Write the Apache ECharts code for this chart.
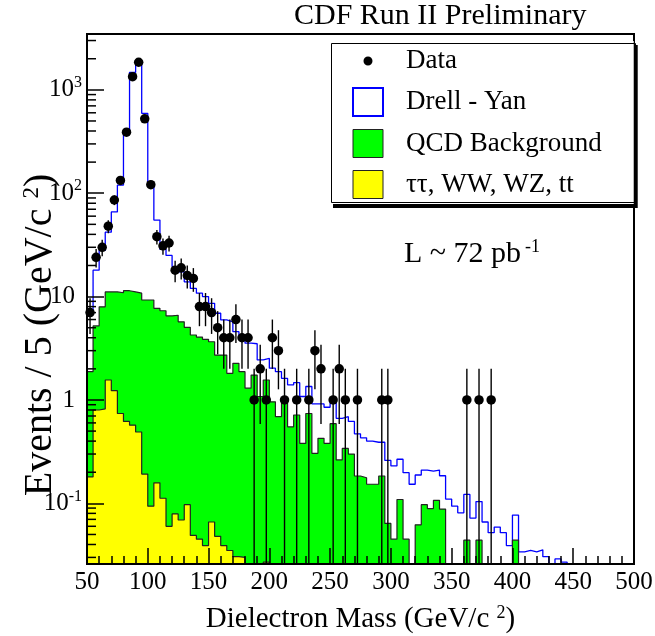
<!DOCTYPE html>
<html><head><meta charset="utf-8">
<script src="https://cdn.jsdelivr.net/npm/echarts/dist/echarts.min.js"></script>
<style>html,body{margin:0;padding:0;background:#fff}#c{width:655px;height:636px}</style>
</head><body><div id="c"></div>
<script>
// ---- bins: 5 GeV wide, low edges from 50 GeV ----
const BIN_START = 50, BIN_WIDTH = 5;

// observed events per bin
const dataCounts = [
  7, 24, 30, 48, 86, 133, 390, 1340, 1850, 524,
  121, 38, 31, 33, 18, 19, 16, 15, 8, 8,
  7, 5, 4, 4, 6, 4, 4, 1, 2, 1,
  4, 3, 1, 0, 1, 0, 1, 3, 2, 0,
  1, 2, 1, 0, 1, 0, 0, 0, 1, 1,
  0, 0, 0, 0, 0, 0, 0, 0, 0, 0,
  0, 0, 1, 0, 1, 0, 1, 0, 0, 0,
  0, 0, 0, 0, 0, 0, 0, 0, 0, 0,
  0, 0, 0, 0, 0, 0, 0, 0, 0, 0
];
// Drell-Yan + backgrounds (stacked total, blue outline)
const drellYanTotal = [
  7, 18, 28, 42, 66, 120, 393, 1477, 1870, 593,
  122, 55, 28.7, 25, 19.5, 17.4, 13.9, 12.0, 10.8, 10.0,
  8.6, 6.9, 5.95, 5.7, 4.58, 3.95, 3.54, 3.5, 2.44, 2.53,
  2.03, 1.88, 1.62, 1.40, 1.47, 1.08, 1.35, 0.915, 0.915, 0.85,
  0.985, 0.665, 0.69, 0.62, 0.47, 0.43, 0.40, 0.39, 0.39, 0.26,
  0.23, 0.267, 0.198, 0.153, 0.188, 0.21, 0.205, 0.21, 0.185, 0.11,
  0.094, 0.081, 0.122, 0.072, 0.104, 0.066, 0.052, 0.059, 0.052, 0.039,
  0.077, 0.034, 0.035, 0.034, 0.0355, 0.0305, 0, 0.029, 0.027, 0,
  0, 0, 0, 0, 0, 0, 0, 0, 0, 0
];
// QCD background (stacked on the tau/WW/WZ/tt component, green)
const qcdStack = [
  1.88, 5.2, 7.97, 11.1, 11.1, 10.9, 11.4, 11.1, 10.8, 9.27,
  9.27, 7.7, 7.3, 6.5, 6.6, 5.7, 5.04, 4.25, 4.06, 3.86,
  3.66, 2.72, 2.72, 1.81, 2.26, 1.88, 1.30, 1.74, 1.08, 1.56,
  0.96, 0.69, 1.04, 0.55, 0.716, 0.38, 0.74, 0.305, 0.426, 0.381,
  0.59, 0.263, 0.34, 0.30, 0.184, 0.177, 0.153, 0.153, 0.184, 0.064,
  0.045, 0.109, 0.045, 0, 0.062, 0.097, 0.089, 0.107, 0.088, 0,
  0, 0, 0.044, 0, 0.044, 0, 0, 0, 0, 0,
  0.044, 0, 0, 0, 0, 0, 0, 0, 0, 0,
  0, 0, 0, 0, 0, 0, 0, 0, 0, 0
];
// tau tau, WW, WZ, tt (yellow)
const ewkTop = [
  0.18, 0.80, 0.82, 1.56, 1.23, 0.74, 0.62, 0.57, 0.49, 0.192,
  0.094, 0.158, 0.112, 0.060, 0.079, 0.069, 0.097, 0.049, 0.045, 0.039,
  0.066, 0.048, 0.039, 0.035, 0.0305, 0.030, 0, 0, 0, 0.027,
  0, 0, 0, 0, 0, 0, 0, 0, 0, 0,
  0, 0, 0, 0, 0, 0, 0, 0, 0, 0,
  0, 0, 0, 0, 0, 0, 0, 0, 0, 0,
  0, 0, 0, 0, 0, 0, 0, 0, 0, 0,
  0, 0, 0, 0, 0, 0, 0, 0, 0, 0,
  0, 0, 0, 0, 0, 0, 0, 0, 0, 0
];
// y tick label text: exponent -> [base, superscript]
const yTickText = { '-1': ['10', '-1'], '0': ['1', ''], '1': ['10', ''], '2': ['10', '2'], '3': ['10', '3'] };
const Y_MIN = 0.0259, Y_MAX = 3470;
const FLOOR = 1e-4;

function stepData(arr) {
  const out = [];
  for (let i = 0; i < arr.length; i++) out.push([BIN_START + i * BIN_WIDTH, arr[i] > 0 ? arr[i] : FLOOR]);
  const last = arr[arr.length - 1];
  out.push([BIN_START + arr.length * BIN_WIDTH, last > 0 ? last : FLOOR]);
  return out;
}
const pts = [], errs = [];
dataCounts.forEach((n, i) => {
  if (n > 0) {
    const xc = BIN_START + (i + 0.5) * BIN_WIDTH;
    const s = Math.sqrt(n);
    pts.push([xc, n]);
    errs.push([xc, Math.max(n - s, FLOOR), n + s]);
  }
});
const minorY = [];
for (let k = -2; k <= 3; k++) for (let m = 2; m <= 9; m++) {
  const v = m * Math.pow(10, k);
  if (v > Y_MIN && v < Y_MAX) minorY.push([BIN_START, v]);
}

const SERIF = 'Liberation Serif';
const chart = echarts.init(document.getElementById('c'), null, { renderer: 'canvas' });
chart.setOption({
  animation: false,
  backgroundColor: '#fff',
  title: [
    { text: 'CDF Run II Preliminary', left: 294, top: 1, padding: 0,
      textStyle: { fontFamily: SERIF, fontSize: 30, fontWeight: 'normal', color: '#000' } },
    { text: 'L ~ 72 pb{sup|-1}', left: 404, top: 238, padding: 0,
      textStyle: { fontFamily: SERIF, fontSize: 30, fontWeight: 'normal', color: '#000',
        rich: { sup: { fontFamily: SERIF, fontSize: 18, color: '#000', verticalAlign: 'bottom', padding: [0, 0, 14, 4] } } } }
  ],
  graphic: [
    { type: 'rect', left: 329, top: 41, z: 100, silent: true,
      shape: { width: 304, height: 159 }, style: { fill: 'none', stroke: '#000', lineWidth: 1 } }
  ],
  legend: {
    orient: 'vertical', left: 329, top: 41, selectedMode: false,
    itemWidth: 30, itemHeight: 28, itemGap: 12,
    padding: [6, 32, 5, 23],
    backgroundColor: '#fff', borderWidth: 0,
    shadowColor: '#000', shadowBlur: 0, shadowOffsetX: 4, shadowOffsetY: 4,
    textStyle: { fontFamily: SERIF, fontSize: 27, lineHeight: 28, color: '#000', padding: [0, 0, 0, 18] },
    data: [
      { name: 'Data', icon: 'path://M0,0L0.01,0M30,28L29.99,28M10.5,14A4.5,4.5,0,1,0,19.5,14A4.5,4.5,0,1,0,10.5,14Z', itemStyle: { color: '#000', borderWidth: 0, opacity: 1 } },
      { name: 'Drell - Yan', icon: 'rect', itemStyle: { color: '#fff', borderColor: '#0000ff', borderWidth: 2 } },
      { name: 'QCD Background', icon: 'rect', itemStyle: { color: '#00ff00', borderColor: '#222', borderWidth: 1 } },
      { name: 'ττ, WW, WZ, tt', icon: 'rect', itemStyle: { color: '#ffff00', borderColor: '#222', borderWidth: 1 } }
    ]
  },
  grid: { left: 87, right: 21, top: 34, bottom: 72, containLabel: false, outerBoundsMode: 'none',
    show: true, borderColor: '#000', borderWidth: 2, backgroundColor: 'transparent' },
  xAxis: {
    type: 'value', min: 50, max: 500, interval: 50, z: 10,
    name: 'Dielectron Mass (GeV/c {sup|2})', nameLocation: 'middle', nameGap: 40, nameMoveOverlap: false,
    nameTextStyle: { fontFamily: SERIF, fontSize: 29, color: '#000',
      rich: { sup: { fontFamily: SERIF, fontSize: 18, color: '#000', verticalAlign: 'bottom', padding: [0, 0, 12, 0] } } },
    axisLine: { lineStyle: { color: '#000', width: 2 } },
    axisTick: { inside: true, length: 16, lineStyle: { color: '#000', width: 1.5 } },
    minorTick: { show: true, splitNumber: 5, length: 8, lineStyle: { color: '#000', width: 1.5 } },
    splitLine: { show: false },
    axisLabel: { fontFamily: SERIF, fontSize: 25, color: '#000', margin: 6 }
  },
  yAxis: {
    type: 'log', logBase: 10, min: Y_MIN, max: Y_MAX, z: 10,
    name: 'Events / 5 (GeV/c {sup|2})', nameLocation: 'middle', nameGap: 27, nameRotate: 90, nameMoveOverlap: false,
    nameTextStyle: { fontFamily: SERIF, fontSize: 40, color: '#000', padding: [0, 72, 0, 0],
      rich: { sup: { fontFamily: SERIF, fontSize: 23, color: '#000', verticalAlign: 'bottom', padding: [0, 0, 17, 0] } } },
    axisLine: { lineStyle: { color: '#000', width: 2 } },
    axisTick: { inside: true, length: 17, lineStyle: { color: '#000', width: 1.5 } },
    splitLine: { show: false },
    axisLabel: {
      fontFamily: SERIF, fontSize: 25, color: '#000', margin: 5, showMinLabel: false, showMaxLabel: false,
      formatter: function (v) {
        const e = String(Math.round(Math.log10(v)));
        const t = yTickText[e];
        if (!t) return '';
        return t[1] ? t[0] + '{sup|' + t[1] + '}' : t[0] + '{pad|}';
      },
      rich: {
        sup: { fontFamily: SERIF, fontSize: 16, color: '#000', verticalAlign: 'bottom', padding: [0, 0, 14, 0] },
        pad: { width: 7 }
      }
    }
  },
  series: [
    { name: 'Drell - Yan', type: 'line', step: 'end', data: stepData(drellYanTotal), symbol: 'none', z: 2,
      lineStyle: { color: '#0000ff', width: 1.3 }, itemStyle: { color: '#0000ff' }, clip: true },
    { name: 'QCD Background', type: 'line', step: 'end', data: stepData(qcdStack), symbol: 'none', z: 3,
      lineStyle: { color: '#222', width: 1.2 }, itemStyle: { color: '#00ff00' },
      areaStyle: { color: '#00ff00', opacity: 1, origin: 'start' }, clip: true },
    { name: 'ττ, WW, WZ, tt', type: 'line', step: 'end', data: stepData(ewkTop), symbol: 'none', z: 4,
      lineStyle: { color: '#222', width: 1.2 }, itemStyle: { color: '#ffff00' },
      areaStyle: { color: '#ffff00', opacity: 1, origin: 'start' }, clip: true },
    { name: 'errors', type: 'custom', z: 5, clip: true, data: errs, encode: { x: 0, y: [1, 2] },
      renderItem: function (params, api) {
        const x = api.value(0);
        const p1 = api.coord([x, api.value(1)]), p2 = api.coord([x, api.value(2)]);
        return { type: 'line', shape: { x1: p1[0], y1: p1[1], x2: p2[0], y2: p2[1] }, style: { stroke: '#000', lineWidth: 1.4 } };
      } },
    { name: 'Data', type: 'scatter', data: pts, symbolSize: 9.5, z: 6, itemStyle: { color: '#000', opacity: 1 } },
    { name: 'minorTicksY', type: 'custom', z: 11, clip: false, data: minorY, encode: { x: 0, y: 1 },
      renderItem: function (params, api) {
        const p = api.coord([api.value(0), api.value(1)]);
        return { type: 'line', shape: { x1: p[0], y1: p[1], x2: p[0] + 9, y2: p[1] }, style: { stroke: '#000', lineWidth: 1.5 } };
      } }
  ]
});
</script></body></html>
